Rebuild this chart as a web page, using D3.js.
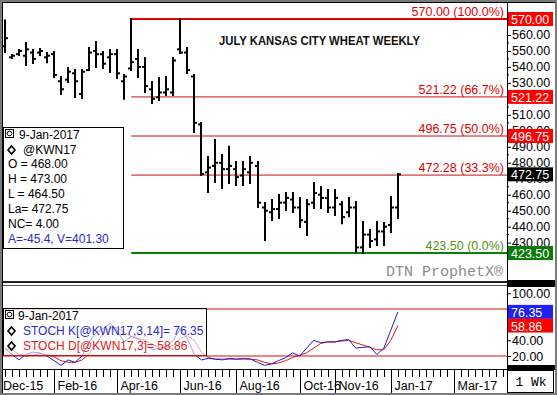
<!DOCTYPE html>
<html><head><meta charset="utf-8">
<script src="https://cdn.jsdelivr.net/npm/d3@7"></script>
<style>
html,body{margin:0;padding:0;background:#fff;}
svg{display:block;font-family:"Liberation Sans",Arial,sans-serif;}
</style></head><body>
<svg id="chart" width="557" height="395"></svg>
<script>
// ---------- DATA ----------
const weeks = ["2015-12-14","2015-12-21","2015-12-28","2016-01-04","2016-01-11","2016-01-18","2016-01-25",
"2016-02-01","2016-02-08","2016-02-15","2016-02-22","2016-02-29","2016-03-07","2016-03-14","2016-03-21","2016-03-28",
"2016-04-04","2016-04-11","2016-04-18","2016-04-25","2016-05-02","2016-05-09","2016-05-16","2016-05-23","2016-05-30",
"2016-06-06","2016-06-13","2016-06-20","2016-06-27","2016-07-04","2016-07-11","2016-07-18","2016-07-25",
"2016-08-01","2016-08-08","2016-08-15","2016-08-22","2016-08-29","2016-09-05","2016-09-12","2016-09-19","2016-09-26",
"2016-10-03","2016-10-10","2016-10-17","2016-10-24","2016-10-31","2016-11-07","2016-11-14","2016-11-21","2016-11-28",
"2016-12-05","2016-12-12","2016-12-19","2016-12-26","2017-01-02","2017-01-09"];
const opens  = [553,546,548,547,549,549,546,548,531,532,536,523,538,550,548,546,548,531,539,545,540,526,521,524,524,551,549,534,504,474,478,480,476,476,472,474,478,452,449,451,455,457,452,443,455,460,458,452,454,449,452,427,435,432,437,441,452];
const highs  = [569,547.5,550.6,555,550.6,551.2,548.7,549.3,533.7,539.3,538,538,551.8,555.6,549.3,550.6,550.6,535,570,550.6,545.6,530.5,533,533.7,545.6,570,551.8,535,504.9,483.6,494.2,484.8,490,480.5,480.5,483.6,480.5,454.8,456.7,459.8,461,461,457.9,456.7,467.3,464.8,462.9,462.9,455.4,457.9,455.4,442.9,437.9,442.9,442.3,458.5,473];
const lows   = [549.3,545.6,547.5,541.2,542.4,547.5,543,533.7,523,530.5,521.2,520.5,538,540,539.3,536.8,533,520,538,533.7,524.3,517.4,519.3,522.4,522.4,548.7,536.2,499.2,472.3,461.7,468,464.2,467.3,466,466,467.3,452.3,431.6,444.1,445.4,450.4,449.1,439.8,434.7,451.6,451.6,449.1,447.3,442.2,446.5,424.5,423.5,427.2,428.5,428.5,436.6,445.4];
const closes = [558,547,550,551,545,550,547,535,526,537,531,537,549,548,542,548,536,534,543,540,528,520,524,526,544,549,538,505,473,477,480,476,478,471,476,480,455,450,451,455,458,452,444,454,461,458,452,458,446,452,427,435,431,437,440,452,472.75];
const stochK = [30,22,15,22,25,24,20,14,8,15,12,20,38,50,55,62,52,38,45,42,35,28,30,32,40,55,42,22,15,17,16,15,17,16,17,16,12,8,10,14,18,24,20,30,40,37,38,38,40,41,30,31,32,22,30,53,76.35];
const stochD = [28,28,22,20,21,23,22,19,14,12,12,15,23,36,48,56,56,50,45,42,40,35,31,30,34,42,46,40,25,18,16,16,16,16,16,16,15,12,10,11,14,18,21,24,30,36,38,38,39,40,37,34,31,28,28,40,58.86];
const fibValues = [570, 521.22, 496.75, 472.28, 423.5];
const fibPcts   = ["100.0%","66.7%","50.0%","33.3%","0.0%"];
const fibStart  = "2016-04-18";
const priceTicks = [430,440,450,460,470,480,490,500,510,520,530,540,550,560];
const priceLabelTicks = [430,440,450,460,470,480,490,500,510,530,540,550,560];
const stochTicks = [20,40,60,80,100];
const stochLabelTicks = [20,40,100];
const stochLevels = [20,80];
const monthTickDates  = ["2015-12-07","2016-02-01","2016-04-04","2016-06-06","2016-08-01","2016-10-03","2016-11-07","2017-01-02","2017-03-06"];
const monthTickLabels = ["Dec-15","Feb-16","Apr-16","Jun-16","Aug-16","Oct-16","Nov-16","Jan-17","Mar-17"];
const lastPrice = 472.75, lastK = 76.35, lastD = 58.86;
const title = "JULY KANSAS CITY WHEAT WEEKLY";
const legendLines = ["O = 468.00","H = 473.00","L = 464.50","La= 472.75","NC= 4.00"];
const legendBlue = "A=-45.4, V=401.30";

// ---------- LAYOUT ----------
const svg = d3.select("#chart");
const parse = d3.timeParse("%Y-%m-%d");
const dates = weeks.map(parse);
const PL = 3, PR = 507, PT = 3, PB = 281, ST = 287, SB = 368;

const x = d3.scaleTime().domain([parse("2016-02-01"), parse("2017-03-06")]).range([54, 454]);
const y = d3.scaleLinear().domain([423.5, 570]).range([253, 19]);
const ys = d3.scaleLinear().domain([20, 80]).range([356, 309]);

svg.append("rect").attr("width",557).attr("height",395).attr("fill","#fff");
const defs = svg.append("defs");
defs.append("clipPath").attr("id","cp").append("rect").attr("x",PL).attr("y",PT).attr("width",PR-PL).attr("height",PB-PT);
defs.append("clipPath").attr("id","cs").append("rect").attr("x",PL).attr("y",ST).attr("width",PR-PL).attr("height",SB-ST);

// ---------- PRICE PANEL ----------
const gp = svg.append("g").attr("clip-path","url(#cp)");
const fx0 = x(parse(fibStart));
fibValues.forEach((v,i)=>{
  const green = i===fibValues.length-1;
  gp.append("line").attr("x1",fx0).attr("x2",PR).attr("y1",y(v)).attr("y2",y(v))
    .attr("stroke", green ? "#0a7d0a" : (i===0 ? "#e00000" : "#c81010"))
    .attr("stroke-width", (i===0||green) ? 2 : 1);
  gp.append("text").attr("x",504).attr("y",y(v)-3).attr("text-anchor","end")
    .attr("font-size",12.5).attr("fill", green ? "#5a9010" : "#e00000")
    .text(`${v.toFixed(2)} (${fibPcts[i]})`);
});

gp.append("text").attr("x",219).attr("y",45).attr("font-size",12.5).attr("font-weight","bold")
  .attr("textLength",201).attr("lengthAdjust","spacingAndGlyphs").attr("fill","#111").text(title);

gp.append("text").attr("x",503).attr("y",276).attr("text-anchor","end")
  .attr("font-family","'Liberation Mono',monospace").attr("font-size",15).attr("fill","#8c8c8c").text("DTN ProphetX®");

const bars = gp.append("g").attr("stroke","#000").attr("stroke-width",2);
dates.forEach((d,i)=>{
  const cx = Math.round(x(d));
  bars.append("line").attr("x1",cx).attr("x2",cx).attr("y1",y(highs[i])-1).attr("y2",y(lows[i])+1);
  bars.append("line").attr("x1",cx-3).attr("x2",cx).attr("y1",y(opens[i])).attr("y2",y(opens[i]));
  bars.append("line").attr("x1",cx).attr("x2",cx+3).attr("y1",y(closes[i])).attr("y2",y(closes[i]));
});

// price legend box
const lg = svg.append("g");
lg.append("rect").attr("x",3.5).attr("y",127.5).attr("width",120).attr("height",121).attr("fill","#fff").attr("stroke","#000");
lg.append("rect").attr("x",5.5).attr("y",129.5).attr("width",8).attr("height",8).attr("fill","#fff").attr("stroke","#000");
lg.append("circle").attr("cx",9.5).attr("cy",133.5).attr("r",2.3).attr("fill","none").attr("stroke","#000");
lg.append("text").attr("x",19).attr("y",139).attr("font-size",12).text("9-Jan-2017");
lg.append("path").attr("d","M11.5,146 L15,150 L11.5,154 L8,150 Z").attr("fill","none").attr("stroke","#000").attr("stroke-width",1.6);
lg.append("text").attr("x",23).attr("y",154).attr("font-size",12).text("@KWN17");
legendLines.forEach((t,i)=>lg.append("text").attr("x",8).attr("y",168+i*15).attr("font-size",12).text(t));
lg.append("text").attr("x",8).attr("y",243).attr("font-size",12).attr("fill","#2828d0").text(legendBlue);

// ---------- STOCH PANEL ----------
const gs = svg.append("g").attr("clip-path","url(#cs)");
stochLevels.forEach(v=>gs.append("line").attr("x1",PL).attr("x2",PR).attr("y1",ys(v)).attr("y2",ys(v)).attr("stroke","#d01010"));
const lineK = d3.line().x((d,i)=>x(dates[i])).y(d=>ys(d));
gs.append("path").attr("d",lineK(stochD)).attr("fill","none").attr("stroke","#e01818").attr("stroke-width",1);
gs.append("path").attr("d",lineK(stochK)).attr("fill","none").attr("stroke","#1c1cd4").attr("stroke-width",1);
// stoch legend
const sl = svg.append("g");
sl.append("rect").attr("x",3.5).attr("y",308.5).attr("width",203).attr("height",47).attr("fill","#fff").attr("fill-opacity",0.6).attr("stroke","#000");
sl.append("line").attr("x1",3.5).attr("x2",206.5).attr("y1",355.5).attr("y2",355.5).attr("stroke","#d01010");
sl.append("rect").attr("x",5.5).attr("y",310.5).attr("width",8).attr("height",8).attr("fill","#fff").attr("stroke","#000");
sl.append("circle").attr("cx",9.5).attr("cy",314.5).attr("r",2.3).attr("fill","none").attr("stroke","#000");
sl.append("text").attr("x",18).attr("y",320).attr("font-size",12).text("9-Jan-2017");
[[331,"#2a2ad0",`STOCH K[@KWN17,3,14]= ${lastK.toFixed(2)}`],[346,"#e02020",`STOCH D[@KWN17,3]= ${lastD.toFixed(2)}`]].forEach(([yy,c,t])=>{
  sl.append("path").attr("d",`M11.5,${yy-4} L15,${yy} L11.5,${yy+4} L8,${yy} Z`).attr("fill","none").attr("stroke","#000").attr("stroke-width",1.6);
  sl.append("text").attr("x",23).attr("y",yy+4).attr("font-size",12).attr("fill",c).text(t);
});

// ---------- AXES ----------
const fmt = d3.format(".2f");
const axP = svg.append("g").attr("transform",`translate(${PR},0)`)
  .call(d3.axisRight(y).tickValues(priceTicks).tickSize(4).tickPadding(1).tickFormat(v=>priceLabelTicks.includes(v)?fmt(v):""));
const axS = svg.append("g").attr("transform",`translate(${PR},0)`)
  .call(d3.axisRight(ys).tickValues(stochTicks).tickSize(4).tickPadding(1).tickFormat(v=>stochLabelTicks.includes(v)?fmt(v):""));
[axP,axS].forEach(a=>{a.select(".domain").remove();
  a.selectAll("text").attr("font-size",12.5).attr("font-family","'Liberation Sans',Arial,sans-serif").attr("fill","#000");
  a.selectAll("line").attr("stroke","#000");});
// minor price ticks
priceTicks.forEach(v=>svg.append("line").attr("x1",PR).attr("x2",PR+2).attr("y1",y(v-5)).attr("y2",y(v-5)).attr("stroke","#000"));

function tag(val, scale, bg){
  svg.append("rect").attr("x",508).attr("y",scale(val)-7).attr("width",45).attr("height",14).attr("fill",bg);
  svg.append("text").attr("x",511).attr("y",scale(val)+5).attr("font-size",12.5).attr("fill","#fff").text(val.toFixed(2));
}
tag(570, y, "#ff0000"); tag(521.22, y, "#ff0000"); tag(496.75, y, "#ff0000");
tag(lastPrice, y, "#000"); tag(423.5, y, "#0a7a0a");
tag(lastK, ys, "#2020f0"); tag(lastD, ys, "#ff0000");

// x-axis
const xa = svg.append("g");
xa.append("line").attr("x1",PL).attr("x2",PR).attr("y1",369.5).attr("y2",369.5).attr("stroke","#000");
d3.timeMonday.range(parse("2015-12-01"), parse("2017-05-01")).forEach(d=>{
  const xx = Math.round(x(d))+0.5;
  if (xx>PL && xx<PR) xa.append("line").attr("x1",xx).attr("x2",xx).attr("y1",370).attr("y2",377).attr("stroke","#000");
});
monthTickDates.forEach((s,i)=>{
  const xx = Math.round(x(parse(s)))+0.5;
  if (xx>PL && xx<PR) xa.append("line").attr("x1",xx).attr("x2",xx).attr("y1",370).attr("y2",393).attr("stroke","#000");
  xa.append("text").attr("x",Math.max(xx+3,3)).attr("y",390).attr("font-size",12.5).text(monthTickLabels[i]);
});

// ---------- FRAME ----------
svg.append("line").attr("x1",PR+0.5).attr("x2",PR+0.5).attr("y1",0).attr("y2",395).attr("stroke","#000");
svg.append("line").attr("x1",0).attr("x2",557).attr("y1",282).attr("y2",282).attr("stroke","#222").attr("stroke-width",2);
svg.append("line").attr("x1",0).attr("x2",557).attr("y1",285.5).attr("y2",285.5).attr("stroke","#555");
svg.append("rect").attr("x",PR).attr("y",280).attr("width",50).attr("height",7).attr("fill","#000");
svg.append("rect").attr("x",PR).attr("y",365).attr("width",50).attr("height",5).attr("fill","#000");
svg.append("rect").attr("x",PR+0.5).attr("y",370.5).attr("width",46).attr("height",22).attr("fill","#fff").attr("stroke","#000");
svg.append("text").attr("x",531).attr("y",386).attr("text-anchor","middle").attr("font-family","'Liberation Mono',monospace").attr("font-size",13).text("1 Wk");
svg.append("rect").attr("x",1).attr("y",1).attr("width",555).attr("height",393).attr("fill","none").attr("stroke","#7a7a7a").attr("stroke-width",2);
svg.append("line").attr("x1",2.5).attr("x2",2.5).attr("y1",2).attr("y2",393).attr("stroke","#000");
svg.append("line").attr("x1",2).attr("x2",555).attr("y1",2.5).attr("y2",2.5).attr("stroke","#000");
</script>
</body></html>
